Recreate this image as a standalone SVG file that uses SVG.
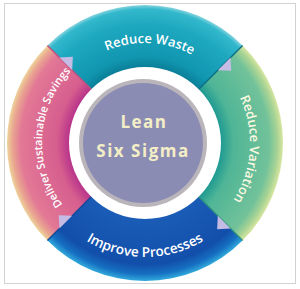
<svg xmlns="http://www.w3.org/2000/svg" width="300" height="289" viewBox="0 0 300 289">
<style>
.lbl{font-family:"Open Sans","Noto Sans","Liberation Sans",sans-serif;font-weight:600;font-size:13px;fill:#ffffff}
.sm{font-size:11px}
.bg{font-size:13.6px}
.ctr{font-family:"Open Sans","Noto Sans","Liberation Sans",sans-serif;font-weight:700;font-size:17px;fill:#f3eec6;letter-spacing:1.5px}
.tri{fill:#c4bce4}
.edge{fill:none;stroke-width:1.4}
</style>
<defs>
<radialGradient id="gTeal" gradientUnits="userSpaceOnUse" cx="145" cy="143" r="138">
<stop offset="0.55" stop-color="#0a7f98"/><stop offset="0.63" stop-color="#1196b0"/><stop offset="0.86" stop-color="#1ea8c0"/><stop offset="0.97" stop-color="#33b8cc"/><stop offset="1" stop-color="#86d4de"/>
</radialGradient>
<radialGradient id="gGreen" gradientUnits="userSpaceOnUse" cx="145" cy="143" r="138">
<stop offset="0.55" stop-color="#1f9a92"/><stop offset="0.64" stop-color="#4fb596"/><stop offset="0.9" stop-color="#72c29a"/><stop offset="0.96" stop-color="#a8d394"/><stop offset="1" stop-color="#d8e6a0"/>
</radialGradient>
<radialGradient id="gBlue" gradientUnits="userSpaceOnUse" cx="145" cy="143" r="138">
<stop offset="0.55" stop-color="#1a5cb6"/><stop offset="0.88" stop-color="#124fab"/><stop offset="0.95" stop-color="#1670c2"/><stop offset="1" stop-color="#32aadc"/>
</radialGradient>
<radialGradient id="gPink" gradientUnits="userSpaceOnUse" cx="145" cy="143" r="138">
<stop offset="0.55" stop-color="#b8348a"/><stop offset="0.64" stop-color="#d65e8e"/><stop offset="0.9" stop-color="#e27896"/><stop offset="0.96" stop-color="#e9a590"/><stop offset="1" stop-color="#eed39a"/>
</radialGradient>
<path id="pTop" d="M74.29,72.29 A100,100 0 0 1 215.71,72.29"/>
<path id="pRight" d="M219.25,68.75 A105,105 0 0 1 219.25,217.25"/>
<path id="pBottom" d="M64.4,223.6 A114,114 0 0 0 225.6,223.6"/>
<path id="pLeft" d="M72.17,215.83 A103,103 0 0 1 72.17,70.17"/>
</defs>
<rect x="4.5" y="3.5" width="291" height="280" fill="#ffffff" stroke="#d2d2d2" stroke-width="1"/>
<g id="reduce-waste">
<path d="M47.42,45.42 A138,138 0 0 1 242.58,45.42 L198.74,89.26 A76,76 0 0 0 91.26,89.26 Z" fill="url(#gTeal)"/>
<text class="lbl"><textPath href="#pTop" startOffset="53%" text-anchor="middle">Reduce Waste</textPath></text>
</g>
<g id="reduce-variation">
<path d="M242.58,45.42 A138,138 0 0 1 242.58,240.58 L198.74,196.74 A76,76 0 0 0 198.74,89.26 Z" fill="url(#gGreen)"/>
<text class="lbl" style="fill:#fbf8e0"><textPath href="#pRight" startOffset="54%" text-anchor="middle">Reduce Variation</textPath></text>
</g>
<g id="improve-processes">
<path d="M242.58,240.58 A138,138 0 0 1 47.42,240.58 L91.26,196.74 A76,76 0 0 0 198.74,196.74 Z" fill="url(#gBlue)"/>
<text class="lbl bg"><textPath href="#pBottom" startOffset="50%" text-anchor="middle">Improve Processes</textPath></text>
</g>
<g id="deliver-savings">
<path d="M47.42,240.58 A138,138 0 0 1 47.42,45.42 L91.26,89.26 A76,76 0 0 0 91.26,196.74 Z" fill="url(#gPink)"/>
<text class="lbl sm"><textPath href="#pLeft" startOffset="54%" text-anchor="middle">Deliver Sustainable Savings</textPath></text>
</g>
<g id="connectors">
<line class="edge" x1="242.58" y1="45.42" x2="198.74" y2="89.26" stroke="#0b6f86"/>
<line class="edge" x1="242.58" y1="240.58" x2="198.74" y2="196.74" stroke="#2a8f80"/>
<line class="edge" x1="47.42" y1="240.58" x2="91.26" y2="196.74" stroke="#12479a"/>
<line class="edge" x1="47.42" y1="45.42" x2="91.26" y2="89.26" stroke="#c0507e"/>
<polygon class="tri" points="230.56,57.44 217.84,70.16 231.27,70.87"/>
<polygon class="tri" points="230.56,228.56 217.84,215.84 217.13,229.27"/>
<polygon class="tri" points="59.44,228.56 72.16,215.84 58.73,215.13"/>
<polygon class="tri" points="59.44,57.44 72.16,70.16 72.87,56.73"/>
</g>
<g id="lean-six-sigma">
<circle cx="143" cy="143" r="64" fill="#bab5ba"/>
<circle cx="143" cy="143" r="60" fill="#8b8cb4"/>
<text class="ctr" x="144" y="128" text-anchor="middle">Lean</text>
<text class="ctr" x="143" y="157" text-anchor="middle">Six Sigma</text>
</g>
</svg>
